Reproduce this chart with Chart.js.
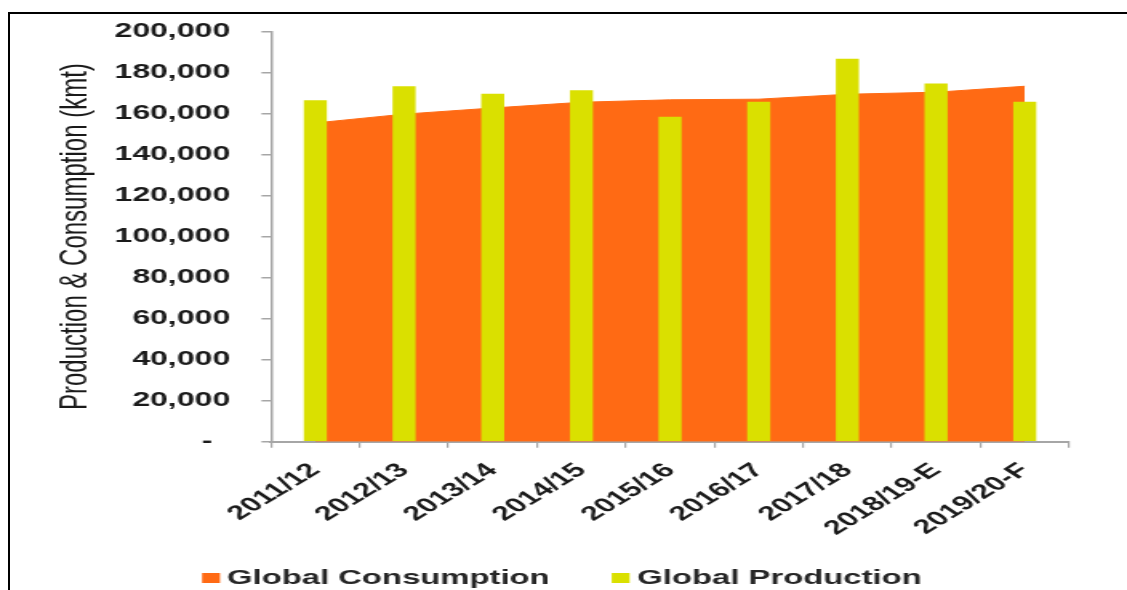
<!DOCTYPE html>
<html>
<head>
<meta charset="utf-8">
<title>Global Production & Consumption</title>
<script src="https://cdn.jsdelivr.net/npm/chart.js@4.4.1/dist/chart.umd.min.js"></script>
<style>
    html, body { margin: 0; padding: 0; background: #fff; overflow: hidden; }
    #wrap { position: relative; width: 1127px; height: 590px; }
    #myChart { position: absolute; left: 0; top: 0; }
    #frame { position: absolute; left: 8px; top: 12px; width: 1300px; height: 800px;
             border-top: 2px solid #000; border-left: 2px solid #000; }
</style>
</head>
<body>
<div id="wrap">
    <!-- drawn narrower and stretched sideways, like the source picture -->
    <canvas id="myChart" width="704" height="590" style="width:1127px;height:590px"></canvas>
    <div id="frame"></div>
</div>
<script>
var seasons = ['2011/12', '2012/13', '2013/14', '2014/15', '2015/16', '2016/17', '2017/18', '2018/19-E', '2019/20-F'];
var production = [166500, 173300, 169700, 171300, 158400, 165700, 186700, 174600, 165700];
var consumption = [155400, 159700, 162700, 165500, 166700, 167000, 169400, 170400, 173300];
var yTicks = [0, 20000, 40000, 60000, 80000, 100000, 120000, 140000, 160000, 180000, 200000];

var fam = "'Liberation Sans', Arial, sans-serif";
var orange = '#FF6A14';
var yellow = '#DAE000';
var axisGrey = '#a6a6a6';

Chart.defaults.color = '#1a1a1a';
Chart.defaults.font.family = fam;

// legend under the chart, same look as the Excel one
var bottomLegend = {
    id: 'bottomLegend',
    afterDraw: function (chart) {
        var c = chart.ctx;
        var items = [
            { ds: 1, box: 126.2, text: 141.8 },
            { ds: 0, box: 382.1, text: 398.1 }
        ];
        c.save();
        c.font = 'bold 20.5px ' + fam;
        c.textBaseline = 'middle';
        c.textAlign = 'left';
        items.forEach(function (it) {
            var ds = chart.data.datasets[it.ds];
            c.fillStyle = ds.backgroundColor;
            c.fillRect(it.box, 573, 11.2, 10);
            c.fillStyle = '#262626';
            c.fillText(ds.label, it.text, 578.5);
        });
        c.restore();
    }
};

var ctx = document.getElementById('myChart').getContext('2d');
var chart = new Chart(ctx, {
    type: 'bar',
    data: {
        labels: seasons,
        datasets: [{
            label: 'Global Production',
            data: production,
            backgroundColor: yellow,
            borderWidth: 0,
            barPercentage: 0.26,
            categoryPercentage: 1,
            order: 0
        },
        {
            type: 'line',
            label: 'Global Consumption',
            data: consumption,
            backgroundColor: orange,
            borderColor: orange,
            borderWidth: 1,
            pointRadius: 0,
            tension: 0,
            fill: 'origin',
            order: 1
        }]
    },
    options: {
        responsive: false,
        devicePixelRatio: 1,
        animation: false,
        layout: { padding: { left: 10, top: 30, right: 36.2, bottom: 0 } },
        plugins: {
            legend: { display: false },
            tooltip: { enabled: false }
        },
        scales: {
            x: {
                grid: { offset: true, drawOnChartArea: false, tickLength: 6, color: axisGrey, lineWidth: 1.2 },
                border: { color: axisGrey, width: 2 },
                ticks: {
                    autoSkip: false,
                    minRotation: 44,
                    maxRotation: 44,
                    padding: 11,
                    font: { size: 20, weight: 'bold' }
                },
                afterFit: function (scale) { scale.height = 148.3; }
            },
            y: {
                min: 0,
                max: 200000,
                afterBuildTicks: function (scale) {
                    scale.ticks = yTicks.map(function (v) { return { value: v }; });
                },
                grid: { drawOnChartArea: false, tickLength: 6, color: axisGrey, lineWidth: 1.5 },
                border: { color: axisGrey, width: 1.5 },
                ticks: {
                    padding: 19.5,
                    font: { size: 20, weight: 'bold' },
                    callback: function (v) {
                        return v === 0 ? '-  ' : v.toLocaleString('en-US');
                    }
                },
                title: {
                    display: true,
                    text: 'Production & Consumption (kmt)',
                    font: { size: 24 },
                    padding: { top: 22.6, bottom: 0 }
                },
                afterFit: function (scale) { scale.width = 159.3; }
            }
        }
    },
    plugins: [bottomLegend]
});
</script>
</body>
</html>
